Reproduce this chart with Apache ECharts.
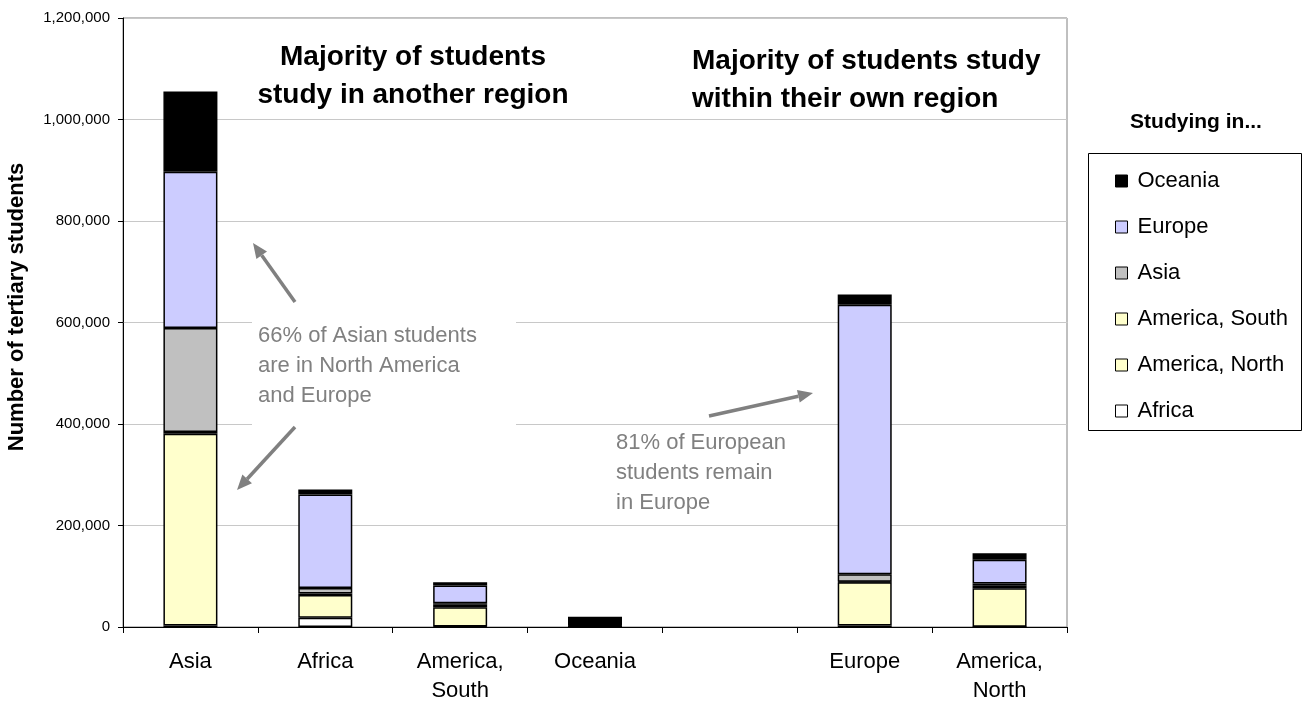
<!DOCTYPE html>
<html>
<head>
<meta charset="utf-8">
<script src="https://cdn.jsdelivr.net/npm/echarts@6/dist/echarts.min.js"></script>
<style>
  html, body { margin: 0; padding: 0; background: #fff; }
  #chart { width: 1304px; height: 701px; }
</style>
</head>
<body>
<div id="chart"></div>
<script>
// region of origin (x axis), empty slot separates the two groups
var categories = ['Asia', 'Africa', 'America,\nSouth', 'Oceania', '', 'Europe', 'America,\nNorth'];

// students by region of study (stacked bottom -> top)
var africaData   = [3000,   18000,  1000,  0,     '-', 3000,   500];
var amNorthData  = [378000, 45000,  38000, 1000,  '-', 85000,  76000];
var amSouthData  = [3000,   3000,   5000,  0,     '-', 1000,   5000];
var asiaData     = [205000, 11000,  3000,  500,   '-', 15000,  4000];
var europeData   = [308000, 184000, 35000, 1500,  '-', 531000, 47000];
var oceaniaData  = [158000, 10000,  6000,  17000, '-', 20000,  13000];

var yTicks = [0, 200000, 400000, 600000, 800000, 1000000, 1200000];

var FONT = '"Liberation Sans", Arial, sans-serif';

function fmt(v) {
  return String(v).replace(/\B(?=(\d{3})+(?!\d))/g, ',');
}

// arrow = line + triangle head (annotation only)
function arrow(x1, y1, x2, y2) {
  var ang = Math.atan2(y2 - y1, x2 - x1);
  var len = 15, half = 6.5;
  var bx = x2 - len * Math.cos(ang), by = y2 - len * Math.sin(ang);
  var px = -Math.sin(ang) * half, py = Math.cos(ang) * half;
  return [
    { type: 'line', z: 20, shape: { x1: x1, y1: y1, x2: bx, y2: by },
      style: { stroke: '#808080', lineWidth: 3.5 } },
    { type: 'polygon', z: 20,
      shape: { points: [[x2, y2], [bx + px, by + py], [bx - px, by - py]] },
      style: { fill: '#808080' } }
  ];
}

function mkSeries(name, data, color) {
  return {
    name: name,
    type: 'bar',
    stack: 'total',
    data: data,
    barWidth: 54,
    itemStyle: { color: color, borderColor: '#000', borderWidth: 1.5 },
    emphasis: { disabled: true }
  };
}

var myChart = echarts.init(document.getElementById('chart'));

var graphics = [
  // legend frame + heading
  { type: 'rect', z: 0, shape: { x: 1088.5, y: 153.5, width: 213, height: 277 },
    style: { fill: 'none', stroke: '#000', lineWidth: 1 } },
  { type: 'text', z: 20, style: { x: 1196, y: 122, text: 'Studying in...', align: 'center',
      verticalAlign: 'middle', font: 'bold 21px ' + FONT, fill: '#000' } },
  // y axis title
  { type: 'text', z: 20, x: 17, y: 307, rotation: Math.PI / 2,
    style: { x: 0, y: 0, text: 'Number of tertiary students', align: 'center',
      verticalAlign: 'middle', font: 'bold 22px ' + FONT, fill: '#000' } },
  // headings in the plot
  { type: 'text', z: 20, style: { x: 413, y: 76, text: 'Majority of students\nstudy in another region',
      align: 'center', verticalAlign: 'middle', lineHeight: 38, font: 'bold 28px ' + FONT, fill: '#000' } },
  { type: 'text', z: 20, style: { x: 692, y: 80, text: 'Majority of students study\nwithin their own region',
      align: 'left', verticalAlign: 'middle', lineHeight: 38, font: 'bold 28px ' + FONT, fill: '#000' } },
  // annotation boxes
  { type: 'rect', z: 10, shape: { x: 252, y: 312, width: 264, height: 120 }, style: { fill: '#fff' } },
  { type: 'text', z: 20, style: { x: 258, y: 366, text: '66% of Asian students\nare in North America\nand Europe',
      align: 'left', verticalAlign: 'middle', lineHeight: 30, font: '22px ' + FONT, fill: '#808080' } },
  { type: 'text', z: 20, style: { x: 616, y: 473, text: '81% of European\nstudents remain\nin Europe',
      align: 'left', verticalAlign: 'middle', lineHeight: 30, font: '22px ' + FONT, fill: '#808080' } }
].concat(arrow(295, 302, 253, 243), arrow(295, 427, 237, 490), arrow(709, 416, 813, 393));

var option = {
  animation: false,
  backgroundColor: '#fff',
  textStyle: { fontFamily: FONT },
  grid: {
    left: 123, right: 237, top: 18, bottom: 74,
    outerBoundsMode: 'none', containLabel: false,
    show: true, borderColor: '#808080', borderWidth: 1, backgroundColor: 'transparent'
  },
  legend: {
    orient: 'vertical',
    left: 1110, top: 165,
    z: 10,
    icon: 'rect',
    data: ['Oceania', 'Europe', 'Asia', 'America, South', 'America, North', 'Africa'],
    itemWidth: 12, itemHeight: 12, itemGap: 24,
    selectedMode: false,
    itemStyle: { borderColor: '#000', borderWidth: 1 },
    textStyle: { fontSize: 22, color: '#000', lineHeight: 22, fontFamily: FONT, padding: [0, 0, 0, 5] }
  },
  xAxis: {
    type: 'category',
    data: categories,
    axisLine: { lineStyle: { color: '#000', width: 1 } },
    axisTick: { show: true, length: 6, lineStyle: { color: '#000' } },
    axisLabel: { color: '#000', fontSize: 22, margin: 20, lineHeight: 29, interval: 0 },
    splitLine: { show: false }
  },
  yAxis: {
    type: 'value',
    min: 0, max: yTicks[yTicks.length - 1], interval: yTicks[1] - yTicks[0],
    axisLine: { show: true, lineStyle: { color: '#000', width: 1 } },
    axisTick: { show: true, length: 5, lineStyle: { color: '#000' } },
    axisLabel: { color: '#000', fontSize: 15, margin: 13, formatter: fmt },
    splitLine: { show: true, lineStyle: { color: '#c8c8c8', width: 1 } }
  },
  series: [
    mkSeries('Africa', africaData, '#ffffff'),
    mkSeries('America, North', amNorthData, '#ffffcc'),
    mkSeries('America, South', amSouthData, '#ffffcc'),
    mkSeries('Asia', asiaData, '#c0c0c0'),
    mkSeries('Europe', europeData, '#ccccff'),
    mkSeries('Oceania', oceaniaData, '#000000')
  ],
  graphic: graphics
};

myChart.setOption(option);
window.addEventListener('resize', function () {
  myChart.resize();
});
</script>
</body>
</html>
